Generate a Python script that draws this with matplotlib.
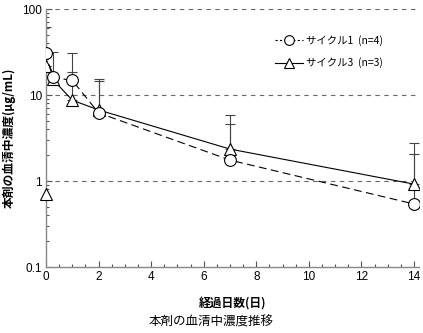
import matplotlib
matplotlib.use('Agg')
import matplotlib.pyplot as plt
from matplotlib.lines import Line2D
from matplotlib.ticker import MultipleLocator, LogLocator, NullFormatter, FixedFormatter, FixedLocator
import numpy as np

plt.rcParams['font.family'] = ['Liberation Sans', 'Noto Sans CJK JP', 'DejaVu Sans']

days = [0, 0.25, 1, 2, 7, 14]
c1_mean = [31, 16, 14.8, 6.2, 1.75, 0.54]
c1_upper = [61, 32, 30.5, 14.5, 4.6, 2.05]
c3_mean = [22, 15.3, 8.7, 6.7, 2.35, 0.92]
c3_upper = [22, 15.3, 18.4, 15.2, 5.8, 2.8]
c3_predose_day = [0]
c3_predose = [0.7]

c1_label = 'サイクル1  (n=4)'
c3_label = 'サイクル3  (n=3)'
y_ticks = [0.1, 1, 10, 100]
y_ticklabels = ['0.1', '1', '10', '100']
x_ticks = [0, 2, 4, 6, 8, 10, 12, 14]

fig = plt.figure(figsize=(4.23, 3.33), dpi=100)
ax = fig.add_axes([46 / 423, 1 - 267 / 333, 373 / 423, 258 / 333])

err_c1 = [np.zeros(len(days)), np.array(c1_upper) - np.array(c1_mean)]
err_c3 = [np.zeros(len(days)), np.array(c3_upper) - np.array(c3_mean)]

ax.errorbar(days, c1_mean, yerr=err_c1, fmt='none', ecolor='#444444',
            elinewidth=0.8, capsize=3.5, capthick=0.8, zorder=2)
ax.errorbar(days, c3_mean, yerr=err_c3, fmt='none', ecolor='#444444',
            elinewidth=0.8, capsize=3.5, capthick=0.8, zorder=2)

mk = dict(markersize=8.5, markerfacecolor='white', markeredgecolor='black',
          markeredgewidth=0.8)
ax.plot(days, c1_mean, color='black', lw=0.8, linestyle=(0, (7, 4)),
        marker='o', zorder=4, **mk)
ax.plot(days, c3_mean, color='black', lw=0.8, linestyle='-',
        marker='^', zorder=3, **mk)
ax.plot(c3_predose_day, c3_predose, linestyle='none', marker='^',
        zorder=3, clip_on=False, **mk)

ax.set_yscale('log')
ax.set_ylim(0.1, 100)
ax.set_xlim(0, 14.19)

ax.yaxis.set_major_locator(FixedLocator(y_ticks))
ax.yaxis.set_major_formatter(FixedFormatter(y_ticklabels))
ax.yaxis.set_minor_locator(LogLocator(base=10, subs=np.arange(2, 10)))
ax.yaxis.set_minor_formatter(NullFormatter())
ax.set_xticks(x_ticks)
ax.xaxis.set_minor_locator(MultipleLocator(0.5))

for y in y_ticks[1:]:
    ax.axhline(y, color='#666666', lw=0.8, linestyle=(0, (4, 4)), zorder=1)

for s in ['top', 'right']:
    ax.spines[s].set_visible(False)
for s in ['left', 'bottom']:
    ax.spines[s].set_color('#888888')
    ax.spines[s].set_linewidth(1.0)

ax.tick_params(axis='both', which='major', direction='in', length=4,
               width=0.8, color='#555555', labelsize=8.5, pad=3)
ax.tick_params(axis='both', which='minor', direction='in', length=2.5,
               width=0.8, color='#555555')

ax.set_xlabel('経過日数(日)', fontsize=8.5, fontweight='bold',
              family=['Noto Sans CJK JP'], labelpad=10)
ax.set_ylabel('本剤の血清中濃度(μg/mL)', fontsize=8.5, fontweight='bold',
              family=['Noto Sans CJK JP', 'DejaVu Sans'], va='center')
ax.yaxis.set_label_coords(-0.1, 0.5)

# legend proxies with a shorter dash so the handle reads "--o--"
h1 = Line2D([], [], color='black', lw=0.8, linestyle=(0, (2, 2)), marker='o',
            markersize=7, markerfacecolor='white', markeredgecolor='black',
            markeredgewidth=0.8)
h3 = Line2D([], [], color='black', lw=0.8, linestyle='-', marker='^',
            markersize=7, markerfacecolor='white', markeredgecolor='black',
            markeredgewidth=0.8)
ax.legend([h1, h3], [c1_label, c3_label], loc='upper left',
          bbox_to_anchor=(0.59, 0.935), frameon=False, handlelength=2.6,
          handletextpad=0.3, labelspacing=1.1,
          prop={'family': ['Noto Sans CJK JP'], 'size': 7.5})

fig.text(0.5, 1 - 322 / 333, '本剤の血清中濃度推移', ha='center', va='center',
         fontsize=9, family=['Noto Sans CJK JP'])

fig.savefig('out.png', dpi=100)
